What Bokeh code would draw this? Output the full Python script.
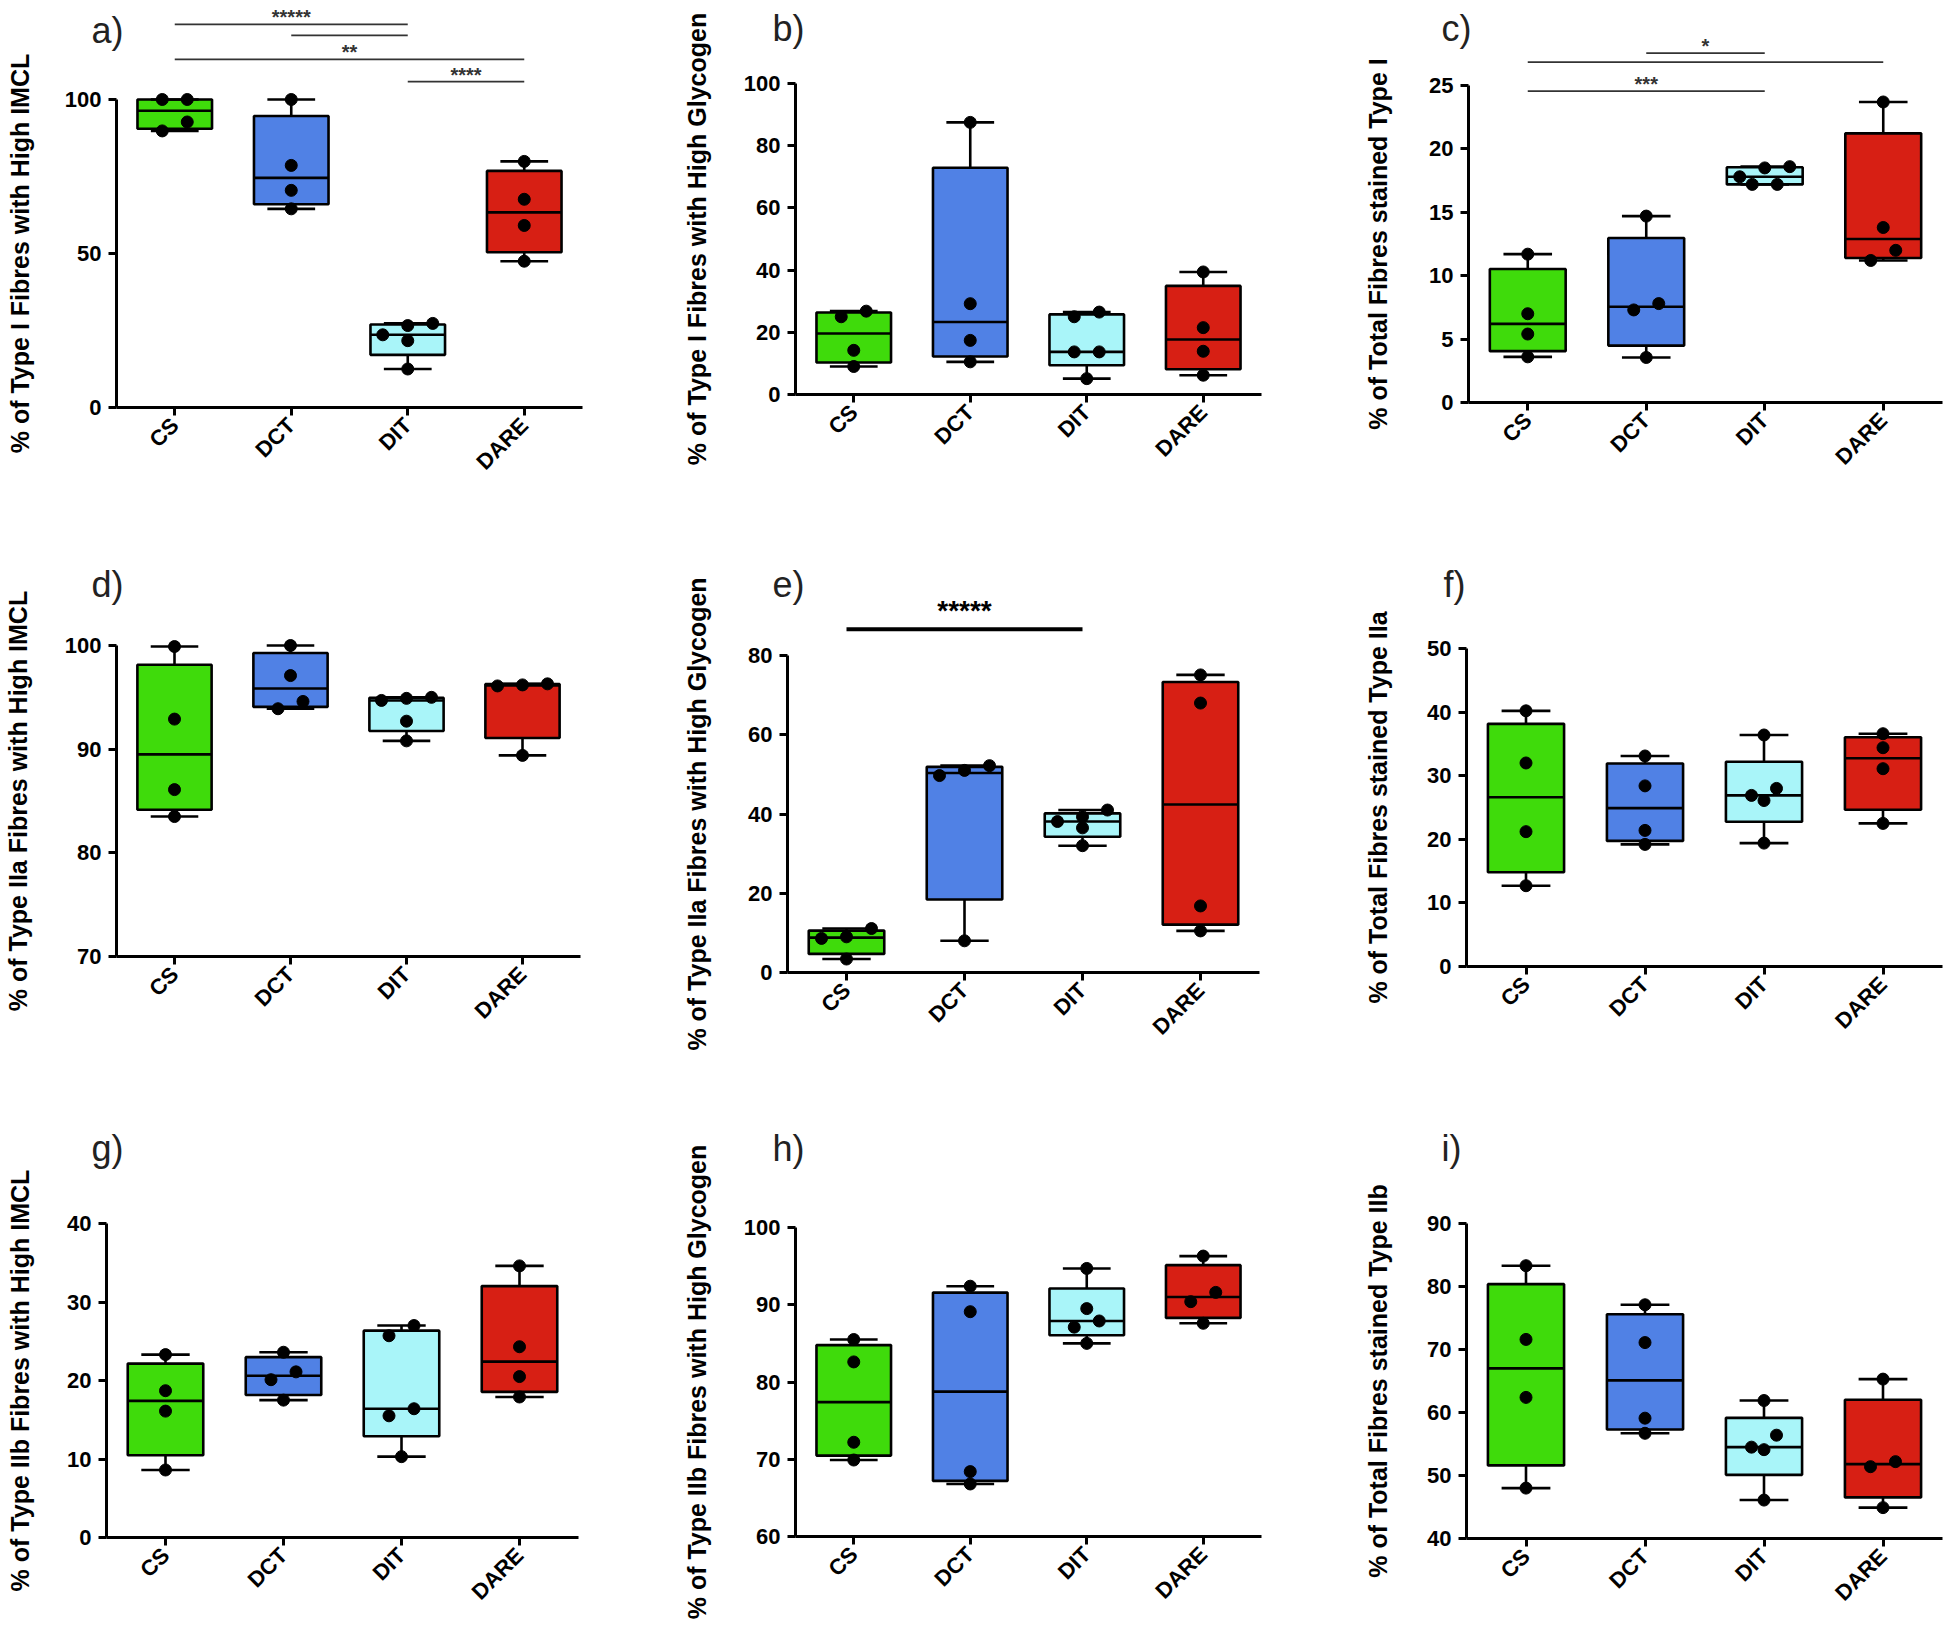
import numpy as np
from bokeh.plotting import figure
from bokeh.layouts import gridplot
from bokeh.models import Range1d, FixedTicker, Label
from bokeh.embed import file_html
from bokeh.resources import INLINE
from bokeh.core.properties import value

groups = ["CS", "DCT", "DIT", "DARE"]
box_colors = ["#3FDB0B", "#5081E5", "#A9F5F9", "#D71F14"]

# ---- data: individual values per group (CS, DCT, DIT, DARE) ----
a_pts = [[100.0, 100.0, 92.7, 89.8], [100.0, 78.6, 70.5, 64.5],
         [27.3, 26.6, 23.6, 21.7, 12.5], [79.9, 67.6, 59.1, 47.5]]
b_pts = [[26.8, 25.0, 14.2, 9.0], [87.5, 29.2, 17.4, 10.5],
         [26.5, 25.0, 13.7, 13.7, 5.1], [39.4, 21.5, 13.9, 6.2]]
c_pts = [[11.7, 7.0, 5.4, 3.6], [14.7, 7.8, 7.3, 3.55],
         [18.6, 18.5, 17.8, 17.2, 17.2], [23.7, 13.8, 12.0, 11.2]]
d_pts = [[99.9, 92.9, 86.1, 83.5], [100.0, 97.1, 94.6, 93.9],
         [95.0, 94.9, 94.7, 92.7, 90.8], [96.3, 96.2, 96.1, 89.4]]
e_pts = [[11.1, 9.0, 8.6, 3.4], [52.2, 51.0, 49.7, 8.0],
         [41.0, 39.3, 38.1, 36.5, 32.0], [75.1, 68.0, 16.8, 10.5]]
f_pts = [[40.2, 32.0, 21.2, 12.7], [33.1, 28.4, 21.4, 19.2],
         [36.4, 28.0, 26.9, 26.1, 19.4], [36.6, 34.4, 31.1, 22.5]]
g_pts = [[23.3, 18.7, 16.1, 8.6], [23.6, 21.1, 20.1, 17.5],
         [27.0, 25.7, 16.4, 15.5, 10.3], [34.6, 24.3, 20.5, 17.9]]
h_pts = [[85.5, 82.6, 72.2, 69.9], [92.4, 89.1, 68.4, 66.8],
         [94.7, 89.5, 87.9, 87.1, 85.0], [96.3, 91.6, 90.4, 87.6]]
i_pts = [[83.3, 71.6, 62.4, 48.0], [77.1, 71.1, 59.1, 56.7],
         [61.9, 56.4, 54.5, 54.1, 46.1], [65.3, 52.2, 51.4, 44.9]]

# y-axis titles
a_label = "% of Type I Fibres with High IMCL"
b_label = "% of Type I Fibres with High Glycogen"
c_label = "% of Total Fibres stained Type I"
d_label = "% of Type IIa Fibres with High IMCL"
e_label = "% of Type IIa Fibres with High Glycogen"
f_label = "% of Total Fibres stained Type IIa"
g_label = "% of Type IIb Fibres with High IMCL"
h_label = "% of Type IIb Fibres with High Glycogen"
i_label = "% of Total Fibres stained Type IIb"

# y ticks
a_ticks = [0, 50, 100]
b_ticks = [0, 20, 40, 60, 80, 100]
c_ticks = [0, 5, 10, 15, 20, 25]
d_ticks = [70, 80, 90, 100]
e_ticks = [0, 20, 40, 60, 80]
f_ticks = [0, 10, 20, 30, 40, 50]
g_ticks = [0, 10, 20, 30, 40]
h_ticks = [60, 70, 80, 90, 100]
i_ticks = [40, 50, 60, 70, 80, 90]

# significance comparisons: (group, group, level, stars)
a_sig = [("CS", "DIT", 124.4, "*****"), ("DCT", "DIT", 120.8, ""),
         ("CS", "DARE", 113.0, "**"), ("DIT", "DARE", 105.8, "****")]
c_sig = [("DCT", "DIT", 27.55, "*"), ("CS", "DARE", 26.84, ""),
         ("CS", "DIT", 24.55, "***")]
e_sig = [("CS", "DIT", 86.6, "*****")]

FONT = "Liberation Sans"

# layout cells (page px)
cols = [(0, 648), (648, 1298), (1298, 1946)]
rows = [(0, 520), (520, 1085), (1085, 1626)]


def make_panel(letter, pts, ylabel, ticks, cell, geom, letter_pos, ylab_x,
               sig=None, sig_style=None):
    cl, cr, ct, cb = cell
    fl, xe, y0px, y1px = geom
    y0, y1 = ticks[0], ticks[-1]
    pxu = (y0px - y1px) / (y1 - y0)
    xu = (xe - fl) / 4.0

    def px2x(px):
        return (px - fl) / xu

    def py2y(py):
        return y0 + (y0px - py) / pxu

    p = figure(width=cr - cl, height=cb - ct,
               x_range=Range1d(px2x(cl), px2x(cr)),
               y_range=Range1d(py2y(cb), py2y(ct)),
               min_border=0, output_backend="svg",
               toolbar_location=None, tools="")
    p.outline_line_color = None
    p.xgrid.visible = False
    p.ygrid.visible = False
    p.background_fill_color = "white"
    p.border_fill_color = "white"

    cx = [i + 0.5 for i in range(4)]
    q1, med, q3, lo, hi = [], [], [], [], []
    for vals in pts:
        a_, b_, c_ = np.percentile(vals, [25, 50, 75], method="weibull")
        q1.append(a_); med.append(b_); q3.append(c_)
        lo.append(min(vals)); hi.append(max(vals))

    bw, cw = 0.64, 0.41
    lw = 2.6
    p.segment(cx, lo, cx, q1, line_color="black", line_width=lw)
    p.segment(cx, q3, cx, hi, line_color="black", line_width=lw)
    p.vbar(x=cx, width=bw, bottom=q1, top=q3, fill_color=box_colors,
           line_color="black", line_width=lw)
    p.segment([c - bw / 2 for c in cx], med, [c + bw / 2 for c in cx], med,
              line_color="black", line_width=lw)
    p.segment([c - cw / 2 for c in cx], lo, [c + cw / 2 for c in cx], lo,
              line_color="black", line_width=lw)
    p.segment([c - cw / 2 for c in cx], hi, [c + cw / 2 for c in cx], hi,
              line_color="black", line_width=lw)

    # scatter points, spread sideways where they would overlap
    xs, ys = [], []
    for gi, vals in enumerate(pts):
        rws = []
        for v in sorted(vals, reverse=True):
            if rws and (rws[-1][0] - v) * pxu < 12:
                rws[-1].append(v)
            else:
                rws.append([v])
        for r in rws:
            k = len(r)
            for j, v in enumerate(sorted(r)):
                xs.append(gi + 0.5 + (j - (k - 1) / 2) * 25 / xu)
                ys.append(v)
    p.scatter(xs, ys, size=12, color="black")

    # significance bars
    if sig:
        slw, fs, off, col = sig_style
        for g1, g2, lev, txt in sig:
            x0 = groups.index(g1) + 0.5
            x1 = groups.index(g2) + 0.5
            p.segment([x0], [lev], [x1], [lev], line_color=col, line_width=slw)
            if txt:
                p.text([(x0 + x1) / 2], [lev + off / pxu], text=[txt],
                       text_font=value(FONT), text_font_style="bold",
                       text_font_size=fs, text_align="center",
                       text_baseline="middle", text_color=col)

    # axes placed at fixed data locations
    xa = p.xaxis[0]
    ya = p.yaxis[0]
    xa.fixed_location = y0
    ya.fixed_location = 0
    xa.bounds = (0, 4)
    ya.bounds = (y0, y1)
    xa.ticker = FixedTicker(ticks=cx)
    xa.major_label_overrides = {c: g for c, g in zip(cx, groups)}
    xa.major_label_orientation = np.pi / 4
    xa.major_label_standoff = 6
    ya.ticker = FixedTicker(ticks=ticks)
    ya.major_label_standoff = 7
    for ax in (xa, ya):
        ax.axis_line_width = 3
        ax.axis_line_color = "black"
        ax.major_tick_line_width = 3
        ax.major_tick_out = 8
        ax.major_tick_in = 0
        ax.minor_tick_line_color = None
        ax.major_label_text_font = FONT
        ax.major_label_text_font_style = "bold"
        ax.major_label_text_font_size = "22px"
        ax.major_label_text_color = "black"

    lx, ly = letter_pos
    p.add_layout(Label(x=px2x(lx), y=py2y(ly), text=letter + ")",
                       text_font=FONT, text_font_size="36px",
                       text_align="left", text_baseline="middle",
                       text_color="#222222"))
    p.add_layout(Label(x=px2x(ylab_x), y=(y0 + y1) / 2, text=ylabel,
                       angle=np.pi / 2, text_font=FONT, text_font_style="bold",
                       text_font_size="25px", text_align="center",
                       text_baseline="middle", text_color="black"))
    return p


def cell(ci, ri):
    return (cols[ci][0], cols[ci][1], rows[ri][0], rows[ri][1])


thin = (1.8, "20px", 7, "#333333")
thick = (4, "28px", 19, "black")

pa = make_panel("a", a_pts, a_label, a_ticks, cell(0, 0), (116, 582, 407, 99),
                (91, 30), 19, a_sig, thin)
pb = make_panel("b", b_pts, b_label, b_ticks, cell(1, 0), (795, 1261, 394, 83),
                (772, 28), 696)
pc = make_panel("c", c_pts, c_label, c_ticks, cell(2, 0), (1468, 1942, 402, 85),
                (1441, 28), 1377, c_sig, thin)
pd = make_panel("d", d_pts, d_label, d_ticks, cell(0, 1), (116, 580, 956, 645),
                (91, 584), 17)
pe = make_panel("e", e_pts, e_label, e_ticks, cell(1, 1), (787, 1259, 972, 655),
                (772, 584), 696, e_sig, thick)
pf = make_panel("f", f_pts, f_label, f_ticks, cell(2, 1), (1466, 1942, 966, 648),
                (1443, 584), 1377)
pg = make_panel("g", g_pts, g_label, g_ticks, cell(0, 2), (106, 578, 1537, 1223),
                (91, 1148), 19)
ph = make_panel("h", h_pts, h_label, h_ticks, cell(1, 2), (795, 1261, 1536, 1227),
                (772, 1148), 696)
pi_ = make_panel("i", i_pts, i_label, i_ticks, cell(2, 2), (1466, 1942, 1538, 1223),
                 (1441, 1148), 1377)

grid = gridplot([[pa, pb, pc], [pd, pe, pf], [pg, ph, pi_]], toolbar_location=None)

open("out.html", "w").write(file_html(grid, INLINE))
